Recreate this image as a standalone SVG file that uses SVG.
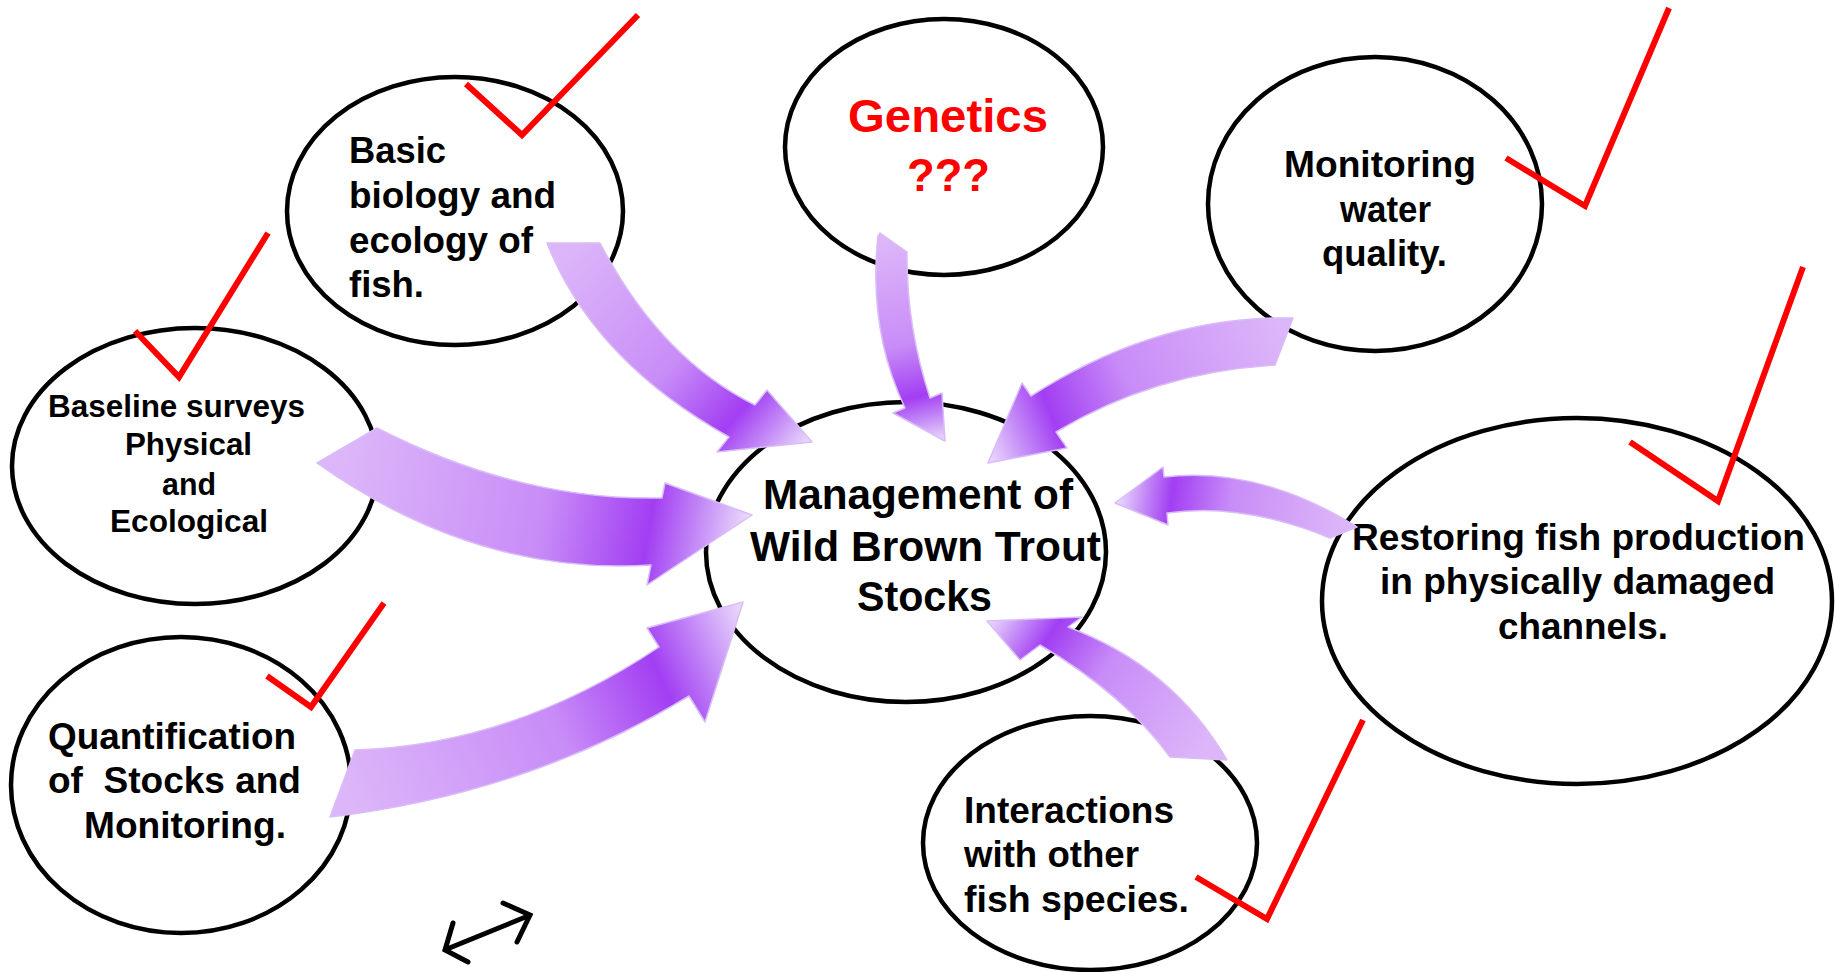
<svg xmlns="http://www.w3.org/2000/svg" width="1835" height="972" viewBox="0 0 1835 972">
<style>
.node{fill:#ffffff;stroke:#000000;stroke-width:4.5}
.t{font-family:"Liberation Sans",Arial,sans-serif;font-weight:bold;fill:#000000}
.red{fill:#ff0000}
.check{fill:none;stroke:#ff0000;stroke-width:6;stroke-linejoin:miter}
.arrow{stroke:#d9bcf8;stroke-width:1.5;stroke-linejoin:round}
</style>
<defs>
<linearGradient id="gA" gradientUnits="userSpaceOnUse" x1="573" y1="243" x2="812" y2="442"><stop offset="0" stop-color="#dcb6f9"/><stop offset="0.5" stop-color="#c88cf7"/><stop offset="0.76" stop-color="#a23ef3"/><stop offset="0.86" stop-color="#bf80f6"/><stop offset="1" stop-color="#ecdffc"/></linearGradient>
<linearGradient id="gB" gradientUnits="userSpaceOnUse" x1="893" y1="240" x2="945" y2="441"><stop offset="0" stop-color="#dcb6f9"/><stop offset="0.5" stop-color="#c88cf7"/><stop offset="0.76" stop-color="#a23ef3"/><stop offset="0.86" stop-color="#bf80f6"/><stop offset="1" stop-color="#ecdffc"/></linearGradient>
<linearGradient id="gC" gradientUnits="userSpaceOnUse" x1="1284" y1="340" x2="988" y2="463"><stop offset="0" stop-color="#dcb6f9"/><stop offset="0.5" stop-color="#c88cf7"/><stop offset="0.76" stop-color="#a23ef3"/><stop offset="0.86" stop-color="#bf80f6"/><stop offset="1" stop-color="#ecdffc"/></linearGradient>
<linearGradient id="gD" gradientUnits="userSpaceOnUse" x1="347" y1="445" x2="752" y2="515"><stop offset="0" stop-color="#dcb6f9"/><stop offset="0.5" stop-color="#c88cf7"/><stop offset="0.76" stop-color="#a23ef3"/><stop offset="0.86" stop-color="#bf80f6"/><stop offset="1" stop-color="#ecdffc"/></linearGradient>
<linearGradient id="gE" gradientUnits="userSpaceOnUse" x1="342" y1="783" x2="743" y2="602"><stop offset="0" stop-color="#dcb6f9"/><stop offset="0.5" stop-color="#c88cf7"/><stop offset="0.76" stop-color="#a23ef3"/><stop offset="0.86" stop-color="#bf80f6"/><stop offset="1" stop-color="#ecdffc"/></linearGradient>
<linearGradient id="gF" gradientUnits="userSpaceOnUse" x1="1343" y1="532" x2="1115" y2="503"><stop offset="0" stop-color="#dcb6f9"/><stop offset="0.5" stop-color="#c88cf7"/><stop offset="0.76" stop-color="#a23ef3"/><stop offset="0.86" stop-color="#bf80f6"/><stop offset="1" stop-color="#ecdffc"/></linearGradient>
<linearGradient id="gG" gradientUnits="userSpaceOnUse" x1="1198" y1="758" x2="987" y2="621"><stop offset="0" stop-color="#dcb6f9"/><stop offset="0.5" stop-color="#c88cf7"/><stop offset="0.76" stop-color="#a23ef3"/><stop offset="0.86" stop-color="#bf80f6"/><stop offset="1" stop-color="#ecdffc"/></linearGradient>
</defs>
<rect x="0" y="0" width="1835" height="972" fill="#ffffff"/>

<g id="node-basic">
<ellipse class="node" cx="455" cy="211" rx="168" ry="134"/>
<text class="t" font-size="37"><tspan x="349" y="163" textLength="97" lengthAdjust="spacingAndGlyphs">Basic</tspan><tspan x="349" y="208" textLength="207" lengthAdjust="spacingAndGlyphs">biology and</tspan><tspan x="349" y="253" textLength="184" lengthAdjust="spacingAndGlyphs">ecology of</tspan><tspan x="349" y="297" textLength="75" lengthAdjust="spacingAndGlyphs">fish.</tspan></text>
</g>
<g id="node-genetics">
<ellipse class="node" cx="944" cy="147" rx="159" ry="128"/>
<text class="t red" font-size="46"><tspan x="848" y="132" textLength="200" lengthAdjust="spacingAndGlyphs">Genetics</tspan><tspan x="907" y="191" textLength="83" lengthAdjust="spacingAndGlyphs">???</tspan></text>
</g>
<g id="node-water">
<ellipse class="node" cx="1375" cy="204" rx="167" ry="147"/>
<text class="t" font-size="36"><tspan x="1284" y="177" textLength="192" lengthAdjust="spacingAndGlyphs">Monitoring</tspan><tspan x="1340" y="222" textLength="91" lengthAdjust="spacingAndGlyphs">water</tspan><tspan x="1322" y="266" textLength="125" lengthAdjust="spacingAndGlyphs">quality.</tspan></text>
</g>
<g id="node-baseline">
<ellipse class="node" cx="195" cy="466" rx="183" ry="138"/>
<text class="t" font-size="31"><tspan x="48" y="417" textLength="257" lengthAdjust="spacingAndGlyphs">Baseline surveys</tspan><tspan x="125" y="455" textLength="127" lengthAdjust="spacingAndGlyphs">Physical</tspan><tspan x="162" y="495" textLength="54" lengthAdjust="spacingAndGlyphs">and</tspan><tspan x="110" y="532" textLength="158" lengthAdjust="spacingAndGlyphs">Ecological</tspan></text>
</g>
<g id="node-quant">
<ellipse class="node" cx="181" cy="785" rx="170" ry="148"/>
<text class="t" font-size="37" style="white-space:pre"><tspan x="48" y="749" textLength="248" lengthAdjust="spacingAndGlyphs">Quantification</tspan><tspan x="48" y="793" textLength="253" lengthAdjust="spacingAndGlyphs">of  Stocks and</tspan><tspan x="84" y="838" textLength="202" lengthAdjust="spacingAndGlyphs">Monitoring.</tspan></text>
</g>
<g id="node-central">
<ellipse class="node" cx="906" cy="552" rx="200" ry="150"/>
<text class="t" font-size="42"><tspan x="763" y="509" textLength="310" lengthAdjust="spacingAndGlyphs">Management of</tspan><tspan x="750" y="561" textLength="351" lengthAdjust="spacingAndGlyphs">Wild Brown Trout</tspan><tspan x="857" y="611" textLength="135" lengthAdjust="spacingAndGlyphs">Stocks</tspan></text>
</g>
<g id="node-restoring">
<ellipse class="node" cx="1577" cy="601" rx="255" ry="183"/>
<text class="t" font-size="37"><tspan x="1352" y="550" textLength="453" lengthAdjust="spacingAndGlyphs">Restoring fish production</tspan><tspan x="1380" y="594" textLength="395" lengthAdjust="spacingAndGlyphs">in physically damaged</tspan><tspan x="1498" y="639" textLength="170" lengthAdjust="spacingAndGlyphs">channels.</tspan></text>
</g>
<g id="node-interactions">
<ellipse class="node" cx="1090" cy="843" rx="167" ry="127"/>
<text class="t" font-size="37"><tspan x="964" y="823" textLength="210" lengthAdjust="spacingAndGlyphs">Interactions</tspan><tspan x="964" y="867" textLength="175" lengthAdjust="spacingAndGlyphs">with other</tspan><tspan x="964" y="912" textLength="225" lengthAdjust="spacingAndGlyphs">fish species.</tspan></text>
</g>

<g id="connectors">
<path class="arrow" fill="url(#gA)" d="M547,243 L600,243 Q660,358 755,405 L767,390 L812,442 L717,452 L729,437 Q593,360 547,243 Z"/>
<path class="arrow" fill="url(#gB)" d="M880,233 L907,252 Q906,325 930,398 L942,393 L945,441 L893,413 L905,408 Q868,330 878,236 Z"/>
<path class="arrow" fill="url(#gC)" d="M1293,318 Q1158,315 1031,396 L1022,383 L988,463 L1067,448 L1056,432 Q1155,372 1275,365 Z"/>
<path class="arrow" fill="url(#gD)" d="M377,428 Q520,501 662,498 L665,483 L752,515 L647,585 L651,565 Q476,576 317,463 Z"/>
<path class="arrow" fill="url(#gE)" d="M355,750 Q513,745 659,647 L647,628 L743,602 L705,722 L689,696 Q530,793 330,817 Z"/>
<path class="arrow" fill="url(#gF)" d="M1357,527 Q1260,466 1164,477 L1163,467 L1115,503 L1168,525 L1167,513 Q1242,502 1330,538 Z"/>
<path class="arrow" fill="url(#gG)" d="M1227,760 Q1172,666 1068,627 L1082,617 L987,621 L1020,660 L1040,645 Q1125,695 1170,757 Z"/>
</g>

<g id="checks">
<polyline class="check" points="466,84 522,135 638,15"/>
<polyline class="check" points="135,331 179,377 268,233"/>
<polyline class="check" points="267,676 311,707 384,603"/>
<polyline class="check" points="1506,158 1585,206 1669,8"/>
<polyline class="check" points="1630,442 1718,501 1803,267"/>
<polyline class="check" points="1196,877 1267,919 1363,720"/>
</g>

<g id="double-arrow" fill="none" stroke="#000000" stroke-width="5" stroke-linecap="round" stroke-linejoin="miter">
<line x1="447" y1="949" x2="528" y2="916"/>
<polyline points="453,923 445,950 468,962"/>
<polyline points="503,903 530,915 517,942"/>
</g>
</svg>
